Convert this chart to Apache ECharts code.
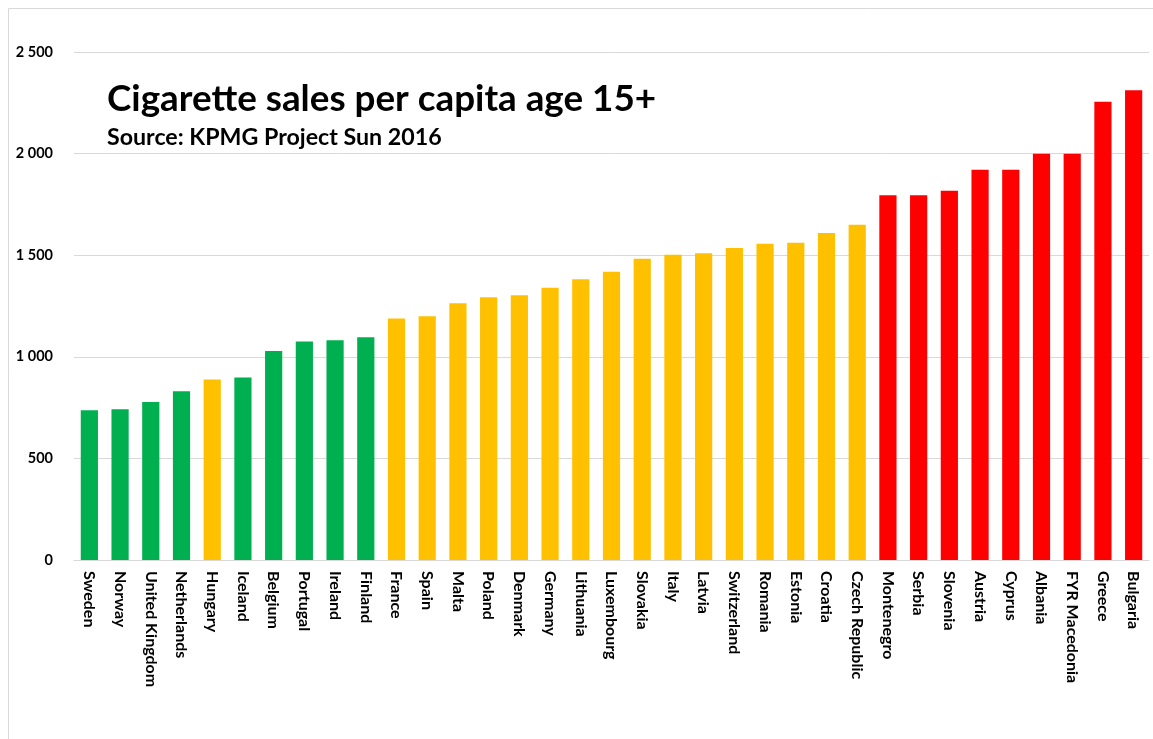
<!DOCTYPE html>
<html>
<head>
<meta charset="utf-8">
<script src="https://cdn.jsdelivr.net/npm/echarts@6/dist/echarts.min.js"></script>
<style>
  html, body { margin: 0; padding: 0; background: #fff; }
  #chart { width: 1153px; height: 739px; }
</style>
</head>
<body>
<div id="chart"></div>
<script>
// countries, sorted by sales
var countries = ['Sweden', 'Norway', 'United Kingdom', 'Netherlands', 'Hungary', 'Iceland',
  'Belgium', 'Portugal', 'Ireland', 'Finland', 'France', 'Spain', 'Malta', 'Poland',
  'Denmark', 'Germany', 'Lithuania', 'Luxembourg', 'Slovakia', 'Italy', 'Latvia',
  'Switzerland', 'Romania', 'Estonia', 'Croatia', 'Czech Republic', 'Montenegro',
  'Serbia', 'Slovenia', 'Austria', 'Cyprus', 'Albania', 'FYR Macedonia', 'Greece', 'Bulgaria'];
var sales = [737, 742, 777, 830, 888, 898, 1028, 1075, 1081, 1096, 1188, 1199, 1263, 1293,
  1303, 1340, 1382, 1419, 1482, 1502, 1510, 1535, 1556, 1561, 1609, 1650, 1795,
  1795, 1817, 1920, 1920, 1999, 1999, 2255, 2312];
// g = green, o = orange, r = red
var groups = ['g', 'g', 'g', 'g', 'o', 'g', 'g', 'g', 'g', 'g', 'o', 'o', 'o', 'o',
  'o', 'o', 'o', 'o', 'o', 'o', 'o', 'o', 'o', 'o', 'o', 'o', 'r',
  'r', 'r', 'r', 'r', 'r', 'r', 'r', 'r'];
var yTicks = [0, 500, 1000, 1500, 2000, 2500];

var groupColor = { g: '#00B050', o: '#FFC000', r: '#FF0000' };
var font = 'Lato, "Open Sans", sans-serif';

var chart = echarts.init(document.getElementById('chart'));

var option = {
  backgroundColor: '#fff',
  animation: false,
  title: {
    text: 'Cigarette sales per capita age 15+',
    subtext: 'Source: KPMG Project Sun 2016',
    left: 102,
    top: 76,
    itemGap: 8,
    textStyle: { fontFamily: font, fontWeight: 'bold', fontSize: 36.8, color: '#000' },
    subtextStyle: { fontFamily: font, fontWeight: 'bold', fontSize: 23.2, color: '#000' }
  },
  graphic: [{
    type: 'rect',
    shape: { x: 8.5, y: 8.5, width: 1300, height: 900 },
    style: { fill: 'none', stroke: '#d9d9d9', lineWidth: 1 },
    z: -1
  }],
  grid: { left: 74, right: 4, top: 52, bottom: 179, containLabel: false },
  xAxis: {
    type: 'category',
    data: countries,
    axisLine: { show: true, lineStyle: { color: '#d9d9d9', width: 1 } },
    axisTick: { show: false },
    axisLabel: {
      interval: 0,
      rotate: -90,
      margin: 11,
      fontFamily: font,
      fontWeight: 'bold',
      fontSize: 16,
      color: '#000'
    }
  },
  yAxis: {
    type: 'value',
    min: yTicks[0],
    max: yTicks[yTicks.length - 1],
    interval: 500,
    axisLine: { show: false },
    axisTick: { show: false },
    splitLine: { lineStyle: { color: '#d9d9d9', width: 1 } },
    axisLabel: {
      margin: 21,
      fontFamily: font,
      fontWeight: 'bold',
      fontSize: 14.5,
      color: '#000',
      formatter: function (v) {
        return String(v).replace(/\B(?=(\d{3})+(?!\d))/g, ' ');
      }
    }
  },
  series: [{
    type: 'bar',
    barCategoryGap: '44%',
    data: sales.map(function (v, i) {
      return { value: v, itemStyle: { color: groupColor[groups[i]] } };
    })
  }]
};

chart.setOption(option);
window.onresize = chart.resize;
</script>
</body>
</html>
